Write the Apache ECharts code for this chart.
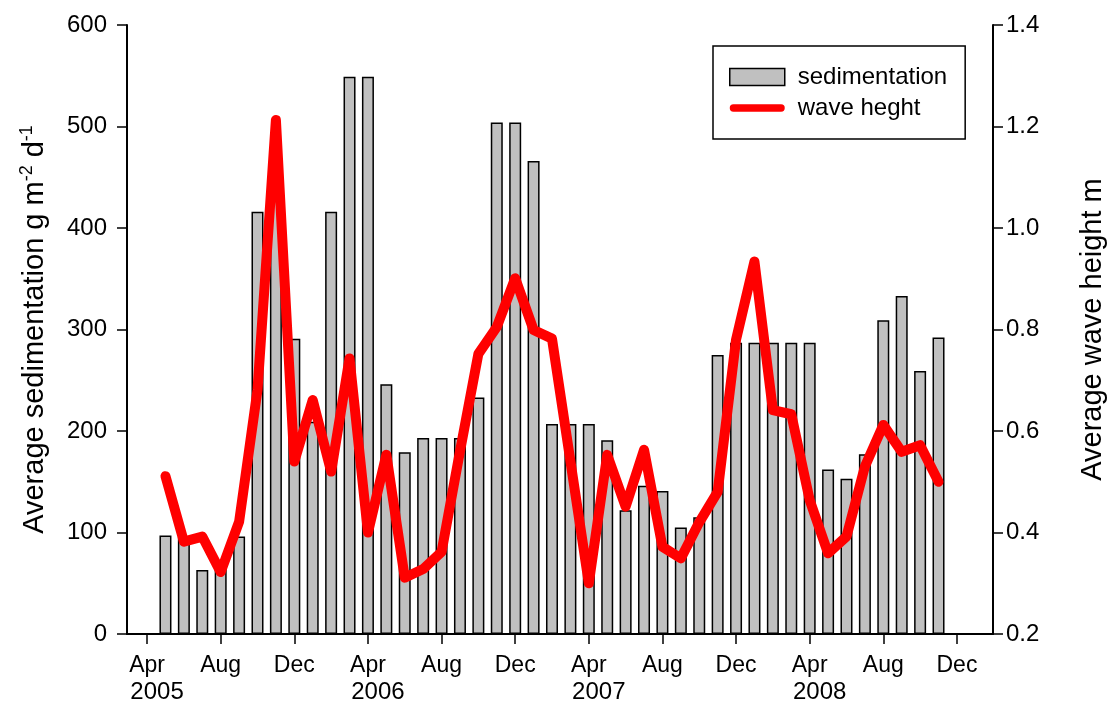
<!DOCTYPE html>
<html>
<head>
<meta charset="utf-8">
<script src="https://cdn.jsdelivr.net/npm/echarts@6/dist/echarts.min.js"></script>
<style>
  html, body { margin: 0; padding: 0; background: #fff; }
  #chart { width: 1107px; height: 706px; }
</style>
</head>
<body>
<div id="chart"></div>
<script>
// Monthly observations, May 2005 – Nov 2008
const months = [
  '2005-05','2005-06','2005-07','2005-08','2005-09','2005-10','2005-11','2005-12',
  '2006-01','2006-02','2006-03','2006-04','2006-05','2006-06','2006-07','2006-08','2006-09','2006-10','2006-11','2006-12',
  '2007-01','2007-02','2007-03','2007-04','2007-05','2007-06','2007-07','2007-08','2007-09','2007-10','2007-11','2007-12',
  '2008-01','2008-02','2008-03','2008-04','2008-05','2008-06','2008-07','2008-08','2008-09','2008-10','2008-11'
];

// Average sedimentation, g m-2 d-1
const sedimentation = [
  97, 96, 63, 67, 96, 416, 440, 291,
  209, 416, 549, 549, 246, 179, 193, 193, 193, 233, 504, 504,
  466, 207, 207, 207, 191, 122, 146, 141, 105, 115, 275, 287,
  287, 287, 287, 287, 162, 153, 177, 309, 333, 259, 292
];

// Average wave height, m
const waveHeight = [
  0.511, 0.382, 0.392, 0.322, 0.421, 0.681, 1.213, 0.540,
  0.661, 0.520, 0.743, 0.400, 0.553, 0.311, 0.328, 0.362, 0.560, 0.752, 0.805, 0.901,
  0.799, 0.782, 0.541, 0.300, 0.553, 0.451, 0.563, 0.372, 0.349, 0.420, 0.480, 0.780,
  0.934, 0.641, 0.633, 0.464, 0.359, 0.392, 0.530, 0.612, 0.559, 0.572, 0.500
];

// Labelled months on the time axis
const tickMonths = [
  '2005-04','2005-08','2005-12','2006-04','2006-08','2006-12',
  '2007-04','2007-08','2007-12','2008-04','2008-08','2008-12'
];
const monthNames = ['Jan','Feb','Mar','Apr','May','Jun','Jul','Aug','Sep','Oct','Nov','Dec'];

const leftTicks = [0, 100, 200, 300, 400, 500, 600];
const rightTicks = [0.2, 0.4, 0.6, 0.8, 1.0, 1.2, 1.4];

// month string -> months counted from Jan 2005
function monthIndex(s) {
  const parts = s.split('-').map(Number);
  return (parts[0] - 2005) * 12 + (parts[1] - 1);
}

const barData = months.map((m, i) => [monthIndex(m), sedimentation[i]]);
const lineData = months.map((m, i) => [monthIndex(m), waveHeight[i]]);
const tickValues = tickMonths.map(monthIndex);

const FONT = 'Liberation Sans, Arial, sans-serif';
const chart = echarts.init(document.getElementById('chart'), null, { renderer: 'canvas' });

chart.setOption({
  animation: false,
  backgroundColor: '#ffffff',
  textStyle: { fontFamily: FONT, color: '#000' },
  grid: { left: 127, right: 114, top: 25, bottom: 72, containLabel: false, outerBoundsMode: 'none' },
  legend: {
    orient: 'vertical',
    left: 713,
    top: 46,
    padding: [19, 18, 19, 16],
    itemGap: 7,
    itemWidth: 55,
    itemHeight: 17,
    borderColor: '#000',
    borderWidth: 1.5,
    backgroundColor: '#fff',
    textStyle: { fontFamily: FONT, fontSize: 24, color: '#000', padding: [0, 0, 0, 8] },
    data: [
      { name: 'sedimentation', icon: 'rect',
        itemStyle: { color: '#c0c0c0', borderColor: '#000', borderWidth: 1.5 } },
      { name: 'wave heght',
        icon: 'path://M4,0 L56,0 A4,4 0 0 1 56,8 L4,8 A4,4 0 0 1 4,0 Z',
        itemStyle: { color: '#ff0000', borderWidth: 0 } }
    ]
  },
  xAxis: {
    type: 'value',
    min: 1.91,
    max: 48.96,
    splitLine: { show: false },
    axisLine: { show: true, onZero: false, lineStyle: { color: '#000', width: 2 } },
    axisTick: { show: true, length: 10, lineStyle: { color: '#000', width: 1.5 },
                customValues: tickValues },
    axisLabel: {
      customValues: tickValues,
      margin: 18,
      fontFamily: FONT,
      fontSize: 23,
      color: '#000',
      formatter: function (v) {
        const mi = Math.round(v);
        const m = ((mi % 12) + 12) % 12;
        const y = 2005 + Math.floor(mi / 12);
        if (m === 3) return '{m|' + monthNames[m] + '}\n{y|' + y + '}';
        return '{m|' + monthNames[m] + '}';
      },
      rich: {
        m: { fontFamily: FONT, fontSize: 23, lineHeight: 27, align: 'center', color: '#000' },
        y: { fontFamily: FONT, fontSize: 24, lineHeight: 27, align: 'center', color: '#000',
             padding: [0, 0, 0, 20] }
      }
    }
  },
  yAxis: [
    {
      type: 'value',
      position: 'left',
      min: leftTicks[0],
      max: leftTicks[leftTicks.length - 1],
      interval: leftTicks[1] - leftTicks[0],
      splitLine: { show: false },
      axisLine: { show: true, lineStyle: { color: '#000', width: 2 } },
      axisTick: { show: true, length: 10, lineStyle: { color: '#000', width: 1.5 } },
      axisLabel: { fontFamily: FONT, fontSize: 24, color: '#000', margin: 20 },
      name: '{n|Average sedimentation g m}{s|-2}{n| d}{s|-1}',
      nameLocation: 'middle',
      nameGap: 78,
      nameTextStyle: {
        fontFamily: FONT, fontSize: 29, color: '#000',
        rich: {
          n: { fontFamily: FONT, fontSize: 29, color: '#000', lineHeight: 31, verticalAlign: 'bottom' },
          s: { fontFamily: FONT, fontSize: 18, color: '#000', lineHeight: 31, verticalAlign: 'top' }
        }
      }
    },
    {
      type: 'value',
      position: 'right',
      min: rightTicks[0],
      max: rightTicks[rightTicks.length - 1],
      interval: 0.2,
      splitLine: { show: false },
      axisLine: { show: true, lineStyle: { color: '#000', width: 2 } },
      axisTick: { show: true, length: 10, lineStyle: { color: '#000', width: 1.5 } },
      axisLabel: {
        fontFamily: FONT, fontSize: 24, color: '#000', margin: 13,
        formatter: v => v.toFixed(1)
      },
      name: 'Average wave height m',
      nameLocation: 'middle',
      nameGap: 85,
      nameTextStyle: { fontFamily: FONT, fontSize: 29, color: '#000' }
    }
  ],
  series: [
    {
      name: 'sedimentation',
      type: 'bar',
      yAxisIndex: 0,
      barWidth: 12,
      data: barData,
      itemStyle: { color: '#c0c0c0', borderColor: '#000', borderWidth: 1.5 },
      z: 2
    },
    {
      name: 'wave heght',
      type: 'line',
      yAxisIndex: 1,
      data: lineData,
      symbol: 'none',
      lineStyle: { color: '#ff0000', width: 10, cap: 'round', join: 'round' },
      itemStyle: { color: '#ff0000' },
      z: 3
    }
  ]
});
</script>
</body>
</html>
